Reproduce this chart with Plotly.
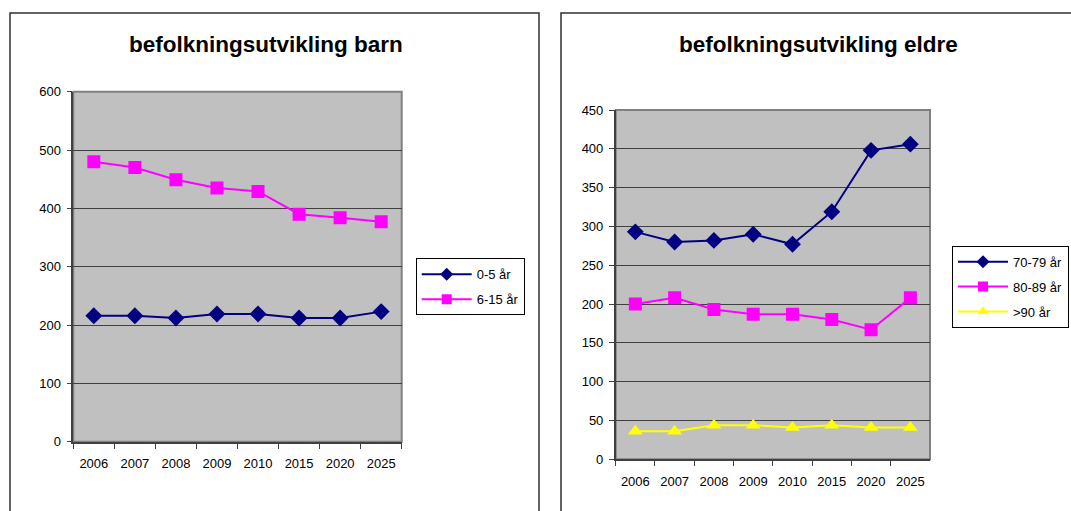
import plotly.graph_objects as go

W, H = 1071, 511

years = ["2006", "2007", "2008", "2009", "2010", "2015", "2020", "2025"]
barn_0_5 = [216, 216, 212, 219, 219, 212, 212, 223]
barn_6_15 = [480, 470, 449, 435, 429, 390, 384, 377]
eldre_70_79 = [293, 280, 282, 290, 277, 319, 398, 406]
eldre_80_89 = [200, 208, 193, 187, 187, 180, 167, 208]
eldre_90 = [36, 36, 44, 44, 41, 44, 41, 41]

title_left = "befolkningsutvikling barn"
title_right = "befolkningsutvikling eldre"

NAVY = "#000080"
PINK = "#FF00FF"
YELLOW = "#FFFF00"
FONT = "Liberation Sans, Arial, sans-serif"


def px(x):
    return x / W


def py(y):
    return 1 - y / H


fig = go.Figure()

series = [
    ("0-5 år", barn_0_5, NAVY, "diamond", "x", "y", "legend", 10),
    ("6-15 år", barn_6_15, PINK, "square", "x", "y", "legend", 10),
    ("70-79 år", eldre_70_79, NAVY, "diamond", "x2", "y2", "legend2", 10),
    ("80-89 år", eldre_80_89, PINK, "square", "x2", "y2", "legend2", 10),
    (">90 år", eldre_90, YELLOW, "triangle-up", "x2", "y2", "legend2", 10),
]

for i, (name, vals, col, sym, xa, ya, leg, lsize) in enumerate(series):
    fig.add_trace(go.Scatter(x=years, y=vals, name=name, mode="lines+markers",
                             line=dict(color=col, width=2),
                             marker=dict(symbol=sym, size=13, color=col),
                             xaxis=xa, yaxis=ya, showlegend=False, legendgroup="g%d" % i))
    fig.add_trace(go.Scatter(x=[None], y=[None], name=name, mode="lines+markers",
                             line=dict(color=col, width=2),
                             marker=dict(symbol=sym, size=lsize, color=col),
                             xaxis=xa, yaxis=ya, legend=leg, legendgroup="g%d" % i,
                             hoverinfo="skip"))

tickfont = dict(family=FONT, size=13, color="#000000")

xcommon = dict(type="category", range=[-0.5, 7.5], showgrid=False, tickson="boundaries",
               ticks="outside", ticklen=5, tickcolor="#404040", showline=True,
               linecolor="#404040", linewidth=2, tickfont=tickfont, fixedrange=True,
               ticklabelstandoff=9)
ycommon = dict(showgrid=True, gridcolor="#404040", gridwidth=1, ticks="outside", ticklen=5,
               tickcolor="#404040", showline=True, linecolor="#404040", linewidth=1.5,
               tickfont=tickfont, zeroline=False, fixedrange=True, ticklabelstandoff=3)

L = dict(x0=73.3, x1=401.7, y0=91.7, y1=441.7)
R = dict(x0=615.7, x1=930.0, y0=110.0, y1=459.3)

legfont = dict(family=FONT, size=13, color="#000000")

fig.update_layout(
    width=W, height=H, margin=dict(l=0, r=0, t=0, b=0, autoexpand=False),
    paper_bgcolor="white", plot_bgcolor="#C0C0C0",
    xaxis=dict(domain=[px(L["x0"]), px(L["x1"])], anchor="y", **xcommon),
    yaxis=dict(domain=[py(L["y1"]), py(L["y0"])], anchor="x", range=[0, 600], dtick=100, **ycommon),
    xaxis2=dict(domain=[px(R["x0"]), px(R["x1"])], anchor="y2", **xcommon),
    yaxis2=dict(domain=[py(R["y1"]), py(R["y0"])], anchor="x2", range=[0, 450], dtick=50, **ycommon),
    legend=dict(x=px(415.7), y=py(258.3), xanchor="left", yanchor="top",
                bgcolor="white", bordercolor="#000000", borderwidth=1,
                font=legfont, tracegroupgap=5, itemclick=False, itemdoubleclick=False,
                itemwidth=50),
    legend2=dict(x=px(952), y=py(245.7), xanchor="left", yanchor="top",
                 bgcolor="white", bordercolor="#000000", borderwidth=1,
                 font=legfont, tracegroupgap=5, itemclick=False, itemdoubleclick=False,
                 itemwidth=50),
    showlegend=True,
)

# chart frames
fig.add_shape(type="rect", xref="paper", yref="paper", x0=px(10), x1=px(539), y0=py(540), y1=py(13),
              line=dict(color="#303030", width=1.5), layer="below")
fig.add_shape(type="rect", xref="paper", yref="paper", x0=px(561), x1=px(1090), y0=py(540), y1=py(13),
              line=dict(color="#303030", width=1.5), layer="below")
# plot area borders
for xr, yr in (("x domain", "y domain"), ("x2 domain", "y2 domain")):
    fig.add_shape(type="rect", xref=xr, yref=yr, x0=0, x1=1, y0=0, y1=1,
                  line=dict(color="#808080", width=2), layer="below")

fig.add_annotation(text="<b>" + title_left + "</b>", xref="paper", yref="paper",
                   x=px(266), y=py(44), showarrow=False, xanchor="center", yanchor="middle",
                   font=dict(family=FONT, size=22.5, color="#000000"))
fig.add_annotation(text="<b>" + title_right + "</b>", xref="paper", yref="paper",
                   x=px(818), y=py(44), showarrow=False, xanchor="center", yanchor="middle",
                   font=dict(family=FONT, size=22.5, color="#000000"))

post = (
    "document.documentElement.style.margin='0';"
    "document.documentElement.style.padding='0';"
    "document.documentElement.style.overflow='hidden';"
    "document.body.style.margin='0';"
    "document.body.style.padding='0';"
    "document.body.style.overflow='hidden';"
)

fig.write_html("out.html", config={"displayModeBar": False}, post_script=post)
